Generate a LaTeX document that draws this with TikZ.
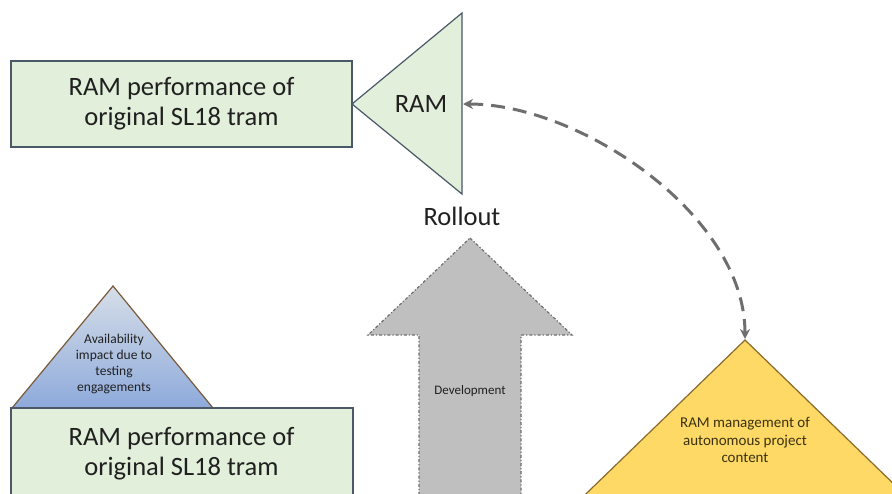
\documentclass[tikz,border=0pt]{standalone}
\usepackage{fontspec}
\setmainfont{Carlito}
\usetikzlibrary{arrows.meta}
\definecolor{boxgreen}{HTML}{E2EFDA}
\definecolor{boxedge}{HTML}{4A5868}
\definecolor{txt}{HTML}{202020}
\definecolor{bluetop}{HTML}{D6DEE8}
\definecolor{bluebot}{HTML}{8EAADB}
\definecolor{brownedge}{HTML}{7A5A3A}
\definecolor{yel}{HTML}{FFD966}
\definecolor{yeledge}{HTML}{8A6A2A}
\definecolor{yeltxt}{HTML}{3A3210}
\definecolor{arrgray}{HTML}{BFBFBF}
\definecolor{dashgray}{HTML}{6E6E6E}
\tikzset{
  greenbox/.style={draw=boxedge, line width=1.2pt, fill=boxgreen},
  bigtext/.style={text=txt, font=\fontsize{26.5}{30}\selectfont, align=center, inner sep=0pt},
  availtextstyle/.style={text=txt, font=\fontsize{13.5}{16.3}\selectfont, align=center, inner sep=0pt},
  devtextstyle/.style={text=txt, font=\fontsize{13}{15}\selectfont, align=center, inner sep=0pt},
  yeltextstyle/.style={text=yeltxt, font=\fontsize{15}{17.5}\selectfont, align=center, inner sep=0pt},
  linkarrow/.style={draw=dashgray, line width=3pt, dash pattern=on 14pt off 8pt,
    {Stealth[length=10pt,width=10pt]}-{Stealth[length=10pt,width=10pt]}}
}
\begin{document}
\begin{tikzpicture}[x=1pt,y=-1pt]
\useasboundingbox (0,0) rectangle (892,493);
\clip (0,0) rectangle (892,493);
% top rectangle
\draw[greenbox] (11,61) rectangle (352,147);
\node[bigtext] (toptext) at (181.5,104) {RAM performance of\\original SL18 tram};
% RAM triangle
\draw[greenbox] (352,104) -- (462,13) -- (462,194) -- cycle;
\node[bigtext] (ramtext) at (421,104) {RAM};
\coordinate (ramR) at (463,104);
% Rollout
\node[bigtext] (rollout) at (462,216) {Rollout};
% gray arrow
\draw[fill=arrgray, draw=dashgray, line width=1.2pt, dash dot]
  (470,238) -- (572,335) -- (521,335) -- (521,510) -- (419,510) -- (419,335) -- (368,335) -- cycle;
\node[devtextstyle] (devtext) at (470,391) {Development};
% bottom-left triangle
\shade[top color=bluetop, bottom color=bluebot] (113,286) -- (213,408) -- (12,408) -- cycle;
\draw[draw=brownedge, line width=1.2pt] (12,408) -- (113,286) -- (213,408);
\node[availtextstyle] (availtext) at (114,364) {Availability\\impact due to\\testing\\engagements};
% bottom rectangle
\draw[greenbox] (11,408) rectangle (353,520);
\node[bigtext] (bottext) at (181.5,454) {RAM performance of\\original SL18 tram};
% yellow triangle
\draw[fill=yel, draw=yeledge, line width=1.2pt] (745,340) -- (560,519) -- (930,519) -- cycle;
\coordinate (yapex) at (745,339);
\node[yeltextstyle] (yeltext) at (745,440) {RAM management of\\autonomous project\\content};
% dashed connector
\draw[linkarrow] (ramR) .. controls (580,104) and (745,215) .. (yapex);
\end{tikzpicture}
\end{document}
